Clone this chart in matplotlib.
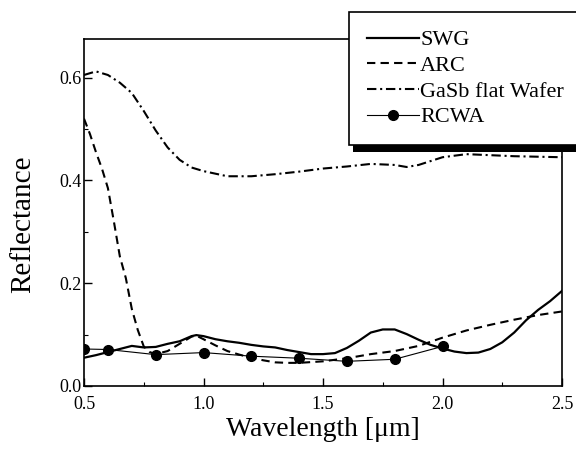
import numpy as np
import matplotlib
matplotlib.use("Agg")
import matplotlib.pyplot as plt
from matplotlib.patches import Rectangle
from matplotlib.ticker import MultipleLocator

plt.rcParams['font.family'] = ['Liberation Serif', 'DejaVu Serif']

# SWG measured reflectance (solid)
swg_wl = [0.5, 0.55, 0.6, 0.65, 0.7, 0.75, 0.8, 0.85, 0.9, 0.95, 0.97, 1.0, 1.05,
          1.1, 1.15, 1.2, 1.25, 1.3, 1.35, 1.4, 1.45, 1.5, 1.55, 1.6, 1.65, 1.7,
          1.75, 1.8, 1.85, 1.9, 1.95, 2.0, 2.05, 2.1, 2.15, 2.2, 2.25, 2.3, 2.35,
          2.4, 2.45, 2.5]
swg_r = [0.055, 0.060, 0.066, 0.072, 0.078, 0.075, 0.076, 0.082, 0.087, 0.097, 0.099,
         0.097, 0.091, 0.087, 0.084, 0.080, 0.077, 0.075, 0.070, 0.066, 0.062, 0.062,
         0.064, 0.074, 0.088, 0.104, 0.110, 0.110, 0.101, 0.090, 0.080, 0.073, 0.067,
         0.064, 0.065, 0.072, 0.085, 0.104, 0.128, 0.148, 0.165, 0.185]

# ARC coated (dashed)
arc_wl = [0.5, 0.525, 0.55, 0.575, 0.6, 0.625, 0.65, 0.675, 0.7, 0.725, 0.75, 0.775,
          0.8, 0.85, 0.9, 0.95, 0.97, 1.0, 1.05, 1.1, 1.15, 1.2, 1.25, 1.3, 1.35,
          1.4, 1.5, 1.6, 1.7, 1.8, 1.9, 2.0, 2.1, 2.2, 2.3, 2.4, 2.5]
arc_r = [0.52, 0.49, 0.455, 0.423, 0.385, 0.32, 0.252, 0.21, 0.15, 0.109, 0.077, 0.066,
         0.062, 0.068, 0.082, 0.096, 0.098, 0.091, 0.079, 0.068, 0.061, 0.055, 0.050,
         0.046, 0.045, 0.045, 0.048, 0.054, 0.062, 0.068, 0.078, 0.094, 0.108, 0.119,
         0.129, 0.138, 0.145]

# flat GaSb wafer (dash-dot)
gasb_wl = [0.5, 0.55, 0.6, 0.65, 0.7, 0.75, 0.8, 0.85, 0.9, 0.95, 1.0, 1.1, 1.2, 1.3,
           1.4, 1.5, 1.6, 1.7, 1.8, 1.85, 1.9, 2.0, 2.1, 2.2, 2.3, 2.4, 2.5]
gasb_r = [0.605, 0.612, 0.605, 0.59, 0.57, 0.535, 0.497, 0.464, 0.44, 0.425, 0.418,
          0.408, 0.408, 0.412, 0.417, 0.423, 0.427, 0.432, 0.43, 0.426, 0.43, 0.445,
          0.451, 0.449, 0.447, 0.446, 0.445]

# RCWA simulation points
rcwa_wl = [0.5, 0.6, 0.8, 1.0, 1.2, 1.4, 1.6, 1.8, 2.0]
rcwa_r = [0.072, 0.071, 0.061, 0.065, 0.058, 0.054, 0.048, 0.052, 0.077]

fig = plt.figure(figsize=(5.76, 4.5), dpi=100)
ax = fig.add_axes([84/576, 64/450, 478/576, 347/450])

ax.plot(swg_wl, swg_r, color='black', lw=1.6, label='SWG')
ax.plot(arc_wl, arc_r, color='black', lw=1.5, dashes=(4, 2.5), label='ARC')
ax.plot(gasb_wl, gasb_r, color='black', lw=1.5, dashes=(4.5, 1.8, 1, 1.8),
        label='GaSb flat Wafer')
ax.plot(rcwa_wl, rcwa_r, color='black', lw=0.8, marker='o', ms=7, label='RCWA')

ax.set_xlim(0.5, 2.5)
ax.set_ylim(0, 0.675)
ax.xaxis.set_major_locator(MultipleLocator(0.5))
ax.xaxis.set_minor_locator(MultipleLocator(0.25))
ax.yaxis.set_major_locator(MultipleLocator(0.2))
ax.yaxis.set_minor_locator(MultipleLocator(0.1))
ax.xaxis.set_major_formatter(matplotlib.ticker.FormatStrFormatter('%.1f'))
ax.yaxis.set_major_formatter(matplotlib.ticker.FormatStrFormatter('%.1f'))
ax.tick_params(which='both', direction='in', labelsize=13, top=False, right=False)
ax.tick_params(axis='x', which='major', length=6, width=1, pad=7)
ax.tick_params(axis='y', which='major', length=6, width=1, pad=2)
ax.tick_params(which='minor', length=3, width=0.8)
for s in ax.spines.values():
    s.set_linewidth(1.2)

ax.set_xlabel('Wavelength [μm]', fontsize=20)
ax.set_ylabel('Reflectance', fontsize=21)
ax.xaxis.set_label_coords(0.5, -0.088)
ax.yaxis.set_label_coords(-0.1, 0.465)

leg = fig.legend(loc='upper left', bbox_to_anchor=(349/576, 1 - 12/450, 0.45, 0.0),
                 mode='expand', fontsize=16, handlelength=2.35, handletextpad=0.05,
                 labelspacing=0.23, borderpad=0.8, borderaxespad=0,
                 fancybox=False, framealpha=1, edgecolor='black')
leg.get_frame().set_linewidth(1.2)

# heavy shadow under the legend box
fig.canvas.draw()
bb = leg.get_window_extent()
fig.patches.append(Rectangle((bb.x0 + 4, bb.y0 - 7), 600, 7, transform=None,
                             facecolor='black', edgecolor='none', zorder=6))

fig.savefig('out.png', dpi=100)
